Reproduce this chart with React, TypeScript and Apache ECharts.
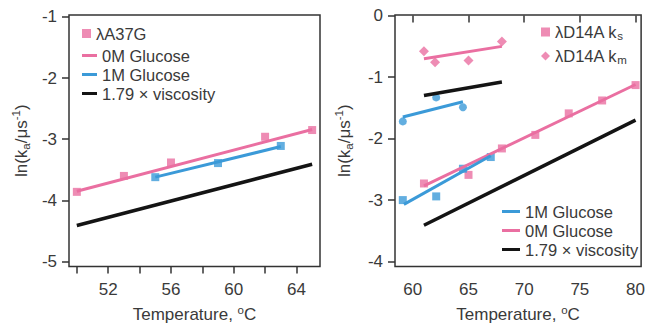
import React, { useEffect, useRef } from "react";
import * as echarts from "echarts";

// ---- Left panel: λA37G ----
const A37G_0M_X = [50, 53, 56, 62, 65];
const A37G_0M_Y = [-3.86, -3.6, -3.38, -2.96, -2.85];
const A37G_1M_X = [55, 59, 63];
const A37G_1M_Y = [-3.62, -3.39, -3.11];
const A37G_0M_FIT = [[50, -3.85], [65, -2.84]];
const A37G_1M_FIT = [[55, -3.62], [63, -3.12]];
const A37G_VISC_FIT = [[50, -4.41], [65, -3.41]];

// ---- Right panel: λD14A ----
const KS_0M_X = [61, 65, 68, 71, 74, 77, 80];
const KS_0M_Y = [-2.73, -2.59, -2.16, -1.94, -1.59, -1.38, -1.13];
const KS_1M_X = [59.1, 62.1, 64.5, 67];
const KS_1M_Y = [-3.0, -2.94, -2.49, -2.3];
const KM_0M_X = [61, 62, 65, 68];
const KM_0M_Y = [-0.58, -0.76, -0.73, -0.42];
const KM_1M_X = [59.1, 62.1, 64.5];
const KM_1M_Y = [-1.72, -1.33, -1.49];
const KS_0M_FIT = [[61, -2.77], [80, -1.12]];
const KS_1M_FIT = [[59.2, -3.07], [67, -2.28]];
const KS_VISC_FIT = [[61, -3.41], [80, -1.7]];
const KM_0M_FIT = [[61, -0.7], [68, -0.5]];
const KM_1M_FIT = [[59.1, -1.65], [64.5, -1.4]];
const KM_VISC_FIT = [[61, -1.3], [68, -1.08]];

// ---- ticks ----
const LEFT_X_TICKS = [50, 52, 54, 56, 58, 60, 62, 64];
const LEFT_X_LABELS = [52, 56, 60, 64];
const LEFT_Y_TICKS = [-1, -2, -3, -4, -5];
const RIGHT_X_TICKS = [60, 65, 70, 75, 80];
const RIGHT_Y_TICKS = [0, -1, -2, -3, -4];

const PINK = "#ea6fa1";
const BLUE = "#3b9ad8";
const BLACK = "#141414";
const FONT = "'Liberation Sans', Arial, sans-serif";
const TXT = "#3a3a3a";

const zip = (xs: number[], ys: number[]) => xs.map((x, i) => [x, ys[i]]);

const yName = "{a|ln(k}{s|a}{a|/μs}{p|-1}{a|)}";
const yRich = {
  a: { fontSize: 17, fontFamily: FONT, color: TXT, lineHeight: 22 },
  s: { fontSize: 11.5, fontFamily: FONT, color: TXT, verticalAlign: "bottom", lineHeight: 22 },
  p: { fontSize: 11.5, fontFamily: FONT, color: TXT, verticalAlign: "top", lineHeight: 22 },
};
const xName = "{a|Temperature, }{p|o}{a|C}";

export default function App() {
  const ref = useRef<HTMLDivElement>(null);
  useEffect(() => {
    if (!ref.current) return;
    const chart = echarts.init(ref.current, undefined, { renderer: "svg" });
    const axisCommon = {
      type: "value",
      axisLine: { show: false },
      splitLine: { show: false },
      axisTick: { show: true, inside: false, length: 7, lineStyle: { color: "#333", width: 1.5 } },
      axisLabel: { fontSize: 17, fontFamily: FONT, color: TXT },
    };
    const lineS = (name: string, data: number[][], color: string, idx: number, width = 3) => ({
      type: "line",
      name,
      data,
      xAxisIndex: idx,
      yAxisIndex: idx,
      showSymbol: false,
      symbol: "none",
      lineStyle: { color, width },
      itemStyle: { color },
      z: 3,
    });
    const scat = (name: string, data: number[][], color: string, idx: number, symbol: string, size = 8) => ({
      type: "scatter",
      name,
      data,
      xAxisIndex: idx,
      yAxisIndex: idx,
      symbol,
      symbolSize: size,
      itemStyle: { color },
      z: 2,
    });
    const legendText = {
      fontSize: 16.5,
      fontFamily: FONT,
      color: TXT,
      lineHeight: 16,
      rich: {
        a: { fontSize: 16.5, fontFamily: FONT, color: TXT, lineHeight: 18 },
        s: { fontSize: 11.5, fontFamily: FONT, color: TXT, verticalAlign: "bottom", lineHeight: 20 },
      },
    };
    chart.setOption({
      animation: false,
      backgroundColor: "#fff",
      grid: [
        { left: 69, top: 15, width: 251, height: 253, show: true, borderColor: "#333", borderWidth: 1.5, backgroundColor: "transparent" },
        { left: 395, top: 15, width: 250, height: 252, show: true, borderColor: "#333", borderWidth: 1.5, backgroundColor: "transparent" },
      ],
      xAxis: [
        {
          ...axisCommon,
          gridIndex: 0,
          min: 49.5,
          max: 65.5,
          axisTick: { ...axisCommon.axisTick, customValues: LEFT_X_TICKS },
          axisLabel: { ...axisCommon.axisLabel, customValues: LEFT_X_LABELS, margin: 14 },
          name: xName,
          nameLocation: "middle",
          nameGap: 37,
          nameTextStyle: { rich: yRich },
        },
        {
          ...axisCommon,
          gridIndex: 1,
          min: 58.4,
          max: 80.5,
          axisTick: { ...axisCommon.axisTick, customValues: RIGHT_X_TICKS },
          axisLabel: { ...axisCommon.axisLabel, customValues: RIGHT_X_TICKS, margin: 14 },
          name: xName,
          nameLocation: "middle",
          nameGap: 37,
          nameTextStyle: { rich: yRich },
        },
      ],
      yAxis: [
        {
          ...axisCommon,
          gridIndex: 0,
          min: -5.08,
          max: -0.97,
          axisTick: { ...axisCommon.axisTick, customValues: LEFT_Y_TICKS },
          axisLabel: { ...axisCommon.axisLabel, customValues: LEFT_Y_TICKS, margin: 12 },
          name: yName,
          nameLocation: "middle",
          nameRotate: 90,
          nameGap: 37,
          nameTextStyle: { rich: yRich },
        },
        {
          ...axisCommon,
          gridIndex: 1,
          min: -4.08,
          max: 0.01,
          axisTick: { ...axisCommon.axisTick, customValues: RIGHT_Y_TICKS },
          axisLabel: { ...axisCommon.axisLabel, customValues: RIGHT_Y_TICKS, margin: 12 },
          name: yName,
          nameLocation: "middle",
          nameRotate: 90,
          nameGap: 40,
          nameTextStyle: { rich: yRich },
        },
      ],
      legend: [
        {
          left: 82,
          top: 25,
          padding: 0,
          orient: "vertical",
          icon: "rect",
          itemWidth: 9,
          itemHeight: 9,
          itemGap: 0,
          itemTextGap: 11,
          selectedMode: false,
          textStyle: legendText,
          data: ["λA37G"],
        },
        {
          left: 82,
          top: 47,
          padding: 0,
          orient: "vertical",
          icon: "rect",
          itemWidth: 15,
          itemHeight: 3,
          itemGap: 2,
          itemTextGap: 6,
          selectedMode: false,
          textStyle: legendText,
          data: ["0M Glucose", "1M Glucose", "1.79 × viscosity"],
        },
        {
          left: 541,
          top: 22,
          padding: 0,
          orient: "vertical",
          itemWidth: 9,
          itemHeight: 9,
          itemGap: 4,
          itemTextGap: 8,
          selectedMode: false,
          textStyle: legendText,
          formatter: (n: string) => (n === "λD14A ks" ? "{a|λD14A k}{s|s}" : "{a|λD14A k}{s|m}"),
          data: [
            { name: "λD14A ks", icon: "rect" },
            { name: "λD14A km", icon: "diamond" },
          ],
        },
        {
          left: 502,
          top: 203,
          padding: 0,
          orient: "vertical",
          icon: "rect",
          itemWidth: 18,
          itemHeight: 3,
          itemGap: 2,
          itemTextGap: 8,
          selectedMode: false,
          textStyle: legendText,
          data: ["1M Glucose ", "0M Glucose ", "1.79 × viscosity "],
          formatter: (n: string) => n.trim(),
        },
      ],
      series: [
        scat("λA37G", zip(A37G_0M_X, A37G_0M_Y), PINK, 0, "rect"),
        scat("λA37G 1M", zip(A37G_1M_X, A37G_1M_Y), BLUE, 0, "rect"),
        lineS("0M Glucose", A37G_0M_FIT, PINK, 0),
        lineS("1M Glucose", A37G_1M_FIT, BLUE, 0),
        lineS("1.79 × viscosity", A37G_VISC_FIT, BLACK, 0, 3.5),

        scat("λD14A ks", zip(KS_0M_X, KS_0M_Y), PINK, 1, "rect"),
        scat("λD14A ks 1M", zip(KS_1M_X, KS_1M_Y), BLUE, 1, "rect"),
        scat("λD14A km", zip(KM_0M_X, KM_0M_Y), PINK, 1, "diamond", 10),
        scat("λD14A km 1M", zip(KM_1M_X, KM_1M_Y), BLUE, 1, "circle", 8),
        lineS("0M Glucose ", KS_0M_FIT, PINK, 1),
        lineS("1M Glucose ", KS_1M_FIT, BLUE, 1),
        lineS("1.79 × viscosity ", KS_VISC_FIT, BLACK, 1, 3.5),
        lineS("0M Glucose km", KM_0M_FIT, PINK, 1),
        lineS("1M Glucose km", KM_1M_FIT, BLUE, 1),
        lineS("1.79 × viscosity km", KM_VISC_FIT, BLACK, 1, 3.5),
      ],
    });
    return () => chart.dispose();
  }, []);
  return (
    <div
      ref={ref}
      style={{ position: "fixed", left: 0, top: 0, width: 648, height: 328 }}
    />
  );
}
